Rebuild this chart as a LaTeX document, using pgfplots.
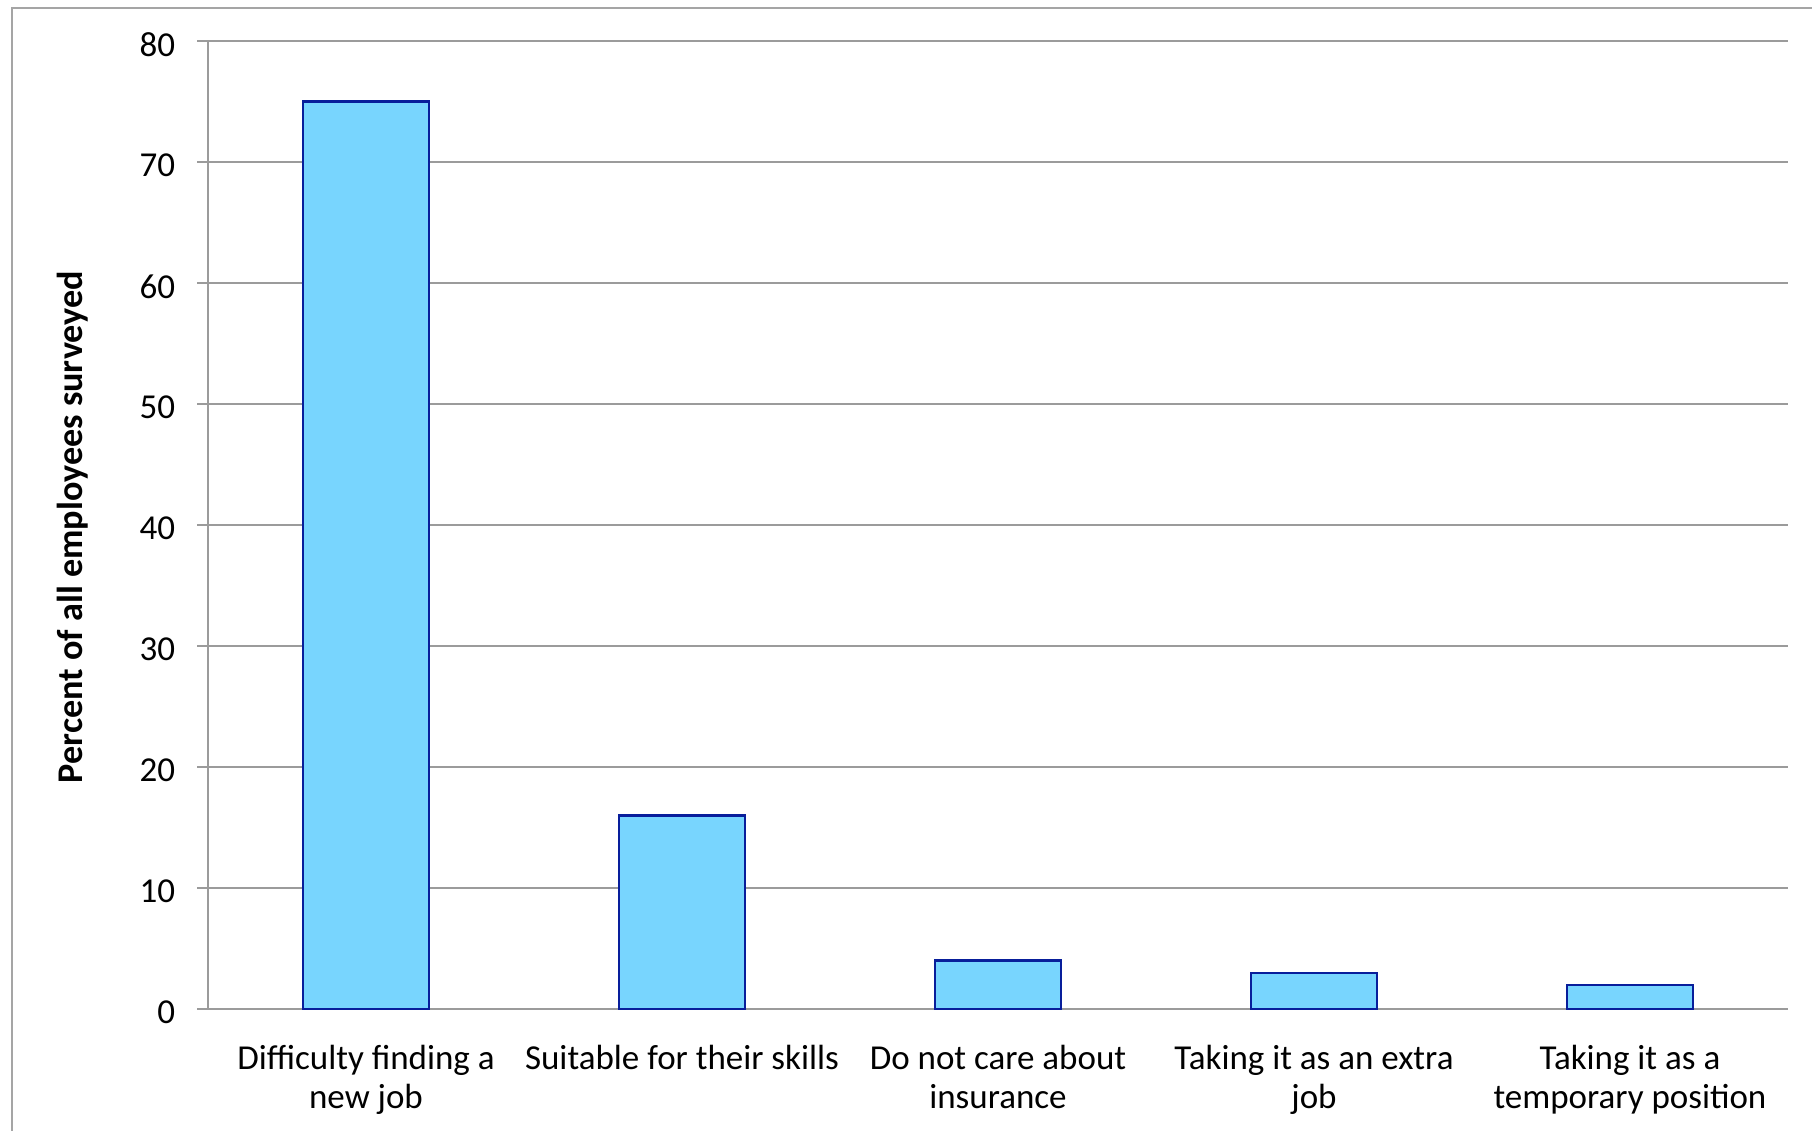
\documentclass[border=0pt]{standalone}
\usepackage{fontspec}
\setmainfont{Carlito}
\usepackage{pgfplots}
\pgfplotsset{compat=1.18}

\definecolor{gridgray}{RGB}{155,155,155}
\definecolor{framegray}{RGB}{165,165,165}
\definecolor{barfill}{RGB}{120,213,254}
\definecolor{baredge}{RGB}{8,30,155}

\begin{document}
\begin{tikzpicture}
  % page size and outer chart frame
  \useasboundingbox (0,0) rectangle (543.6pt,339.3pt);
  \draw[framegray, line width=0.7pt] (3.6pt,0pt) -- (3.6pt,336.9pt) -- (543.6pt,336.9pt);
  \begin{axis}[
      at={(62.4pt,36.6pt)}, anchor=south west,
      width=474pt, height=290.4pt, scale only axis,
      xmin=-0.5, xmax=4.5, ymin=0, ymax=80,
      ytick={0,10,...,80},
      xtick={0,1,2,3,4},
      xticklabels={
        {Difficulty finding a\\new job},
        {Suitable for their skills},
        {Do not care about\\insurance},
        {Taking it as an extra\\job},
        {Taking it as a\\temporary position}},
      axis x line*=bottom, axis y line*=left,
      axis line style={gridgray, line width=0.7pt, -},
      ymajorgrids,
      major grid style={gridgray, line width=0.7pt},
      y tick style={gridgray, line width=0.7pt},
      x tick style={draw=none},
      tick align=outside,
      major tick length=3.3pt,
      /pgf/number format/assume math mode=true,
      tick label style={font=\fontsize{10.5pt}{11.7pt}\selectfont, text=black},
      yticklabel style={anchor=east, xshift=-3pt, yshift=-1pt},
      xticklabel style={align=center, anchor=north, yshift=-4pt},
      ylabel={Percent of all employees surveyed},
      every axis y label/.style={
        at={([xshift=-40.5pt,yshift=-0.6pt]axis description cs:0,0.5)},
        rotate=90, anchor=center,
        font=\fontsize{10.85pt}{12pt}\selectfont\bfseries},
      ybar, bar width=0.4,
      clip=false,
    ]
    \addplot[fill=barfill, draw=baredge, line width=0.7pt]
      coordinates {(0,75) (1,16) (2,4) (3,3) (4,2)};
  \end{axis}
\end{tikzpicture}
\end{document}
